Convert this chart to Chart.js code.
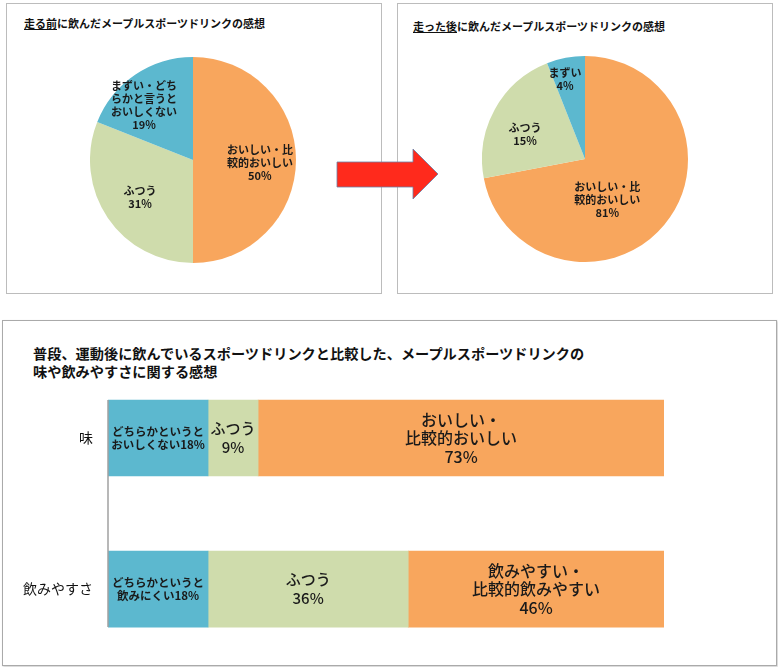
<!DOCTYPE html>
<html>
<head>
<meta charset="utf-8">
<script src="https://cdn.jsdelivr.net/npm/chart.js"></script>
<style>
  body { margin: 0; width: 778px; height: 667px; background: #fff; position: relative; overflow: hidden;
         font-family: "Noto Sans CJK JP", sans-serif; color: #111; }
  .box { position: absolute; border: 1.5px solid #bcbcbc; box-sizing: border-box; }
  .title { position: absolute; font-weight: bold; white-space: nowrap; }
  canvas { position: absolute; }
  svg { position: absolute; left: 0; top: 0; }
</style>
</head>
<body>

<div class="box" style="left:6px;top:3px;width:376px;height:291px"></div>
<div class="box" style="left:397px;top:3px;width:376px;height:291px"></div>
<div class="box" style="left:2px;top:320px;width:775px;height:346px;border-color:#aaa;box-shadow:1px 1px 2px #ccc"></div>

<div class="title" style="left:24px;top:15px;font-size:11px;line-height:16px"><u>走る前</u>に飲んだメープルスポーツドリンクの感想</div>
<div class="title" style="left:413px;top:18px;font-size:11px;line-height:16px"><u>走った後</u>に飲んだメープルスポーツドリンクの感想</div>
<div class="title" style="left:33px;top:345px;font-size:14.2px;line-height:17.5px">普段、運動後に飲んでいるスポーツドリンクと比較した、メープルスポーツドリンクの<br>味や飲みやすさに関する感想</div>

<canvas id="beforePie" width="206" height="206" style="left:90px;top:57px"></canvas>
<canvas id="afterPie" width="206" height="206" style="left:482px;top:56px"></canvas>
<!-- taller than the box: the y axis keeps ~23px of its own padding at the bottom -->
<canvas id="barChart" width="778" height="366" style="left:0;top:322px"></canvas>

<svg width="778" height="667">
  <polygon points="337,162 413,162 413,149 438,174 413,199 413,187 337,187"
           fill="#ff2a1c" stroke="#6d7fa6" stroke-width="1" stroke-opacity="0.8"/>
</svg>

<script>
// pie data
var pieCategories = ['おいしい・比較的おいしい', 'ふつう', 'まずい'];
var beforeValues = [50, 31, 19];
var beforeLabels = [['おいしい・比', '較的おいしい', '50%'], ['ふつう', '31%'], ['まずい・どち', 'らかと言うと', 'おいしくない', '19%']];
// slice sizes as drawn in the picture (printed labels say 81 / 15 / 4)
var afterValues = [72, 22, 6];
var afterLabels = [['おいしい・比', '較的おいしい', '81%'], ['ふつう', '15%'], ['まずい', '4%']];

// bar data
var barCategories = ['味', '飲みやすさ'];
var lowValues = [18, 18];
var midValues = [9, 36];
var highValues = [73, 46];
var lowLabels = [['どちらかというと', 'おいしくない18%'], ['どちらかというと', '飲みにくい18%']];
var midLabels = [['ふつう', '9%'], ['ふつう', '36%']];
var highLabels = [['おいしい・', '比較的おいしい', '73%'], ['飲みやすい・', '比較的飲みやすい', '46%']];

var ORANGE = '#f8a65d', GREEN = '#cfdcac', BLUE = '#5cb8cf';
var FONT = '"Noto Sans CJK JP", sans-serif';

var pieLabels = {
  id: 'pieLabels',
  afterDatasetsDraw: function(chart, args, opts) {
    var ctx = chart.ctx;
    ctx.save();
    ctx.font = 'bold 11px ' + FONT;
    ctx.fillStyle = '#1a1a1a';
    ctx.textAlign = 'center';
    ctx.textBaseline = 'middle';
    chart.getDatasetMeta(0).data.forEach(function(arc, i) {
      var p = arc.getProps(['x', 'y', 'startAngle', 'endAngle', 'outerRadius'], true);
      var a = p.startAngle + (p.endAngle - p.startAngle) * opts.at[i][0];
      var r = p.outerRadius * opts.at[i][1];
      var cx = p.x + Math.cos(a) * r, cy = p.y + Math.sin(a) * r;
      var lines = opts.text[i];
      lines.forEach(function(t, k) {
        ctx.fillText(t, cx, cy + (k - (lines.length - 1) / 2) * 13);
      });
    });
    ctx.restore();
  }
};

function makePie(id, values, labels, at) {
  return new Chart(document.getElementById(id), {
    type: 'pie',
    data: {
      labels: pieCategories,
      datasets: [{ data: values, backgroundColor: [ORANGE, GREEN, BLUE], borderWidth: 0 }]
    },
    options: {
      responsive: false,
      animation: false,
      plugins: {
        legend: { display: false },
        tooltip: { enabled: false },
        pieLabels: { text: labels, at: at }
      }
    },
    plugins: [pieLabels]
  });
}

makePie('beforePie', beforeValues, beforeLabels, [[0.514, 0.65], [0.49, 0.63], [0.386, 0.71]]);
makePie('afterPie', afterValues, afterLabels, [[0.584, 0.45], [0.417, 0.63], [0.35, 0.80]]);

var barLabels = {
  id: 'barLabels',
  afterDatasetsDraw: function(chart) {
    var ctx = chart.ctx;
    ctx.save();
    ctx.fillStyle = '#1a1a1a';
    ctx.textAlign = 'center';
    ctx.textBaseline = 'middle';
    chart.data.datasets.forEach(function(ds, di) {
      ctx.font = ds.labelFont;
      chart.getDatasetMeta(di).data.forEach(function(bar, i) {
        var lines = ds.segLabels[i];
        var cx = (bar.base + bar.x) / 2;
        lines.forEach(function(t, k) {
          ctx.fillText(t, cx, bar.y + (k - (lines.length - 1) / 2) * ds.lineHeight);
        });
      });
    });
    // axis line between the bars
    var meta = chart.getDatasetMeta(0).data;
    var first = meta[0], last = meta[meta.length - 1];
    ctx.strokeStyle = '#a0a0a0';
    ctx.lineWidth = 1.5;
    ctx.beginPath();
    ctx.moveTo(chart.chartArea.left, first.y - first.height / 2);
    ctx.lineTo(chart.chartArea.left, last.y + last.height / 2);
    ctx.stroke();
    ctx.restore();
  }
};

new Chart(document.getElementById('barChart'), {
  type: 'bar',
  data: {
    labels: barCategories,
    datasets: [
      { data: lowValues, backgroundColor: BLUE, borderWidth: 0, barThickness: 76,
        segLabels: lowLabels, labelFont: 'bold 11.5px ' + FONT, lineHeight: 13.5 },
      { data: midValues, backgroundColor: GREEN, borderWidth: 0, barThickness: 76,
        segLabels: midLabels, labelFont: '500 15px ' + FONT, lineHeight: 19 },
      { data: highValues, backgroundColor: ORANGE, borderWidth: 0, barThickness: 76,
        segLabels: highLabels, labelFont: '500 16px ' + FONT, lineHeight: 18.5 }
    ]
  },
  options: {
    indexAxis: 'y',
    responsive: false,
    animation: false,
    layout: { padding: { left: 0, right: 114, top: 40.5, bottom: 2.5 } },
    scales: {
      x: { stacked: true, min: 0, max: 100, display: false },
      y: {
        stacked: true,
        grid: { display: false, drawTicks: false },
        border: { display: false },
        ticks: { color: '#111', padding: 15, font: { size: 14, family: FONT } },
        afterFit: function(scale) { scale.width = 108; }
      }
    },
    plugins: { legend: { display: false }, tooltip: { enabled: false } }
  },
  plugins: [barLabels]
});
</script>
</body>
</html>
